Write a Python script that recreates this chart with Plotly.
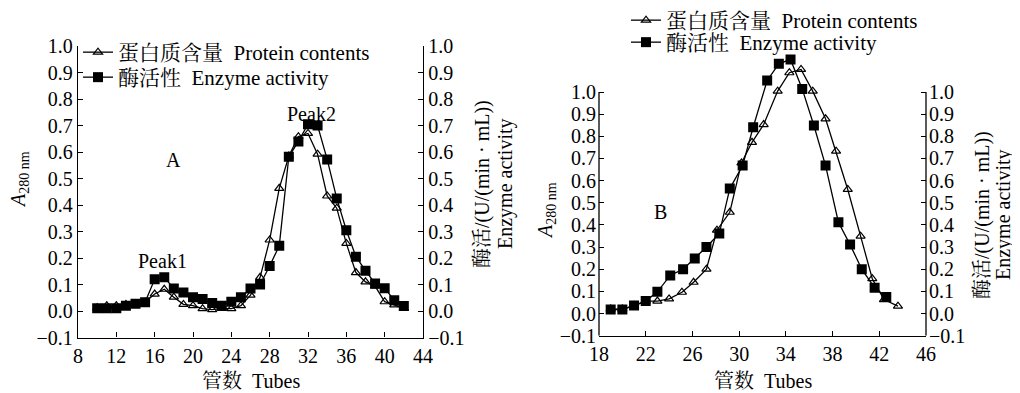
import plotly.graph_objects as go

# ---------------- data ----------------
tubes_a = list(range(10, 43))
protein_a = [0.012, 0.02, 0.02, 0.025, 0.027, 0.033, 0.064, 0.082, 0.052, 0.025,
             0.02, 0.009, 0.005, 0.01, 0.009, 0.02, 0.06, 0.127, 0.268, 0.463,
             0.585, 0.658, 0.67, 0.592, 0.434, 0.388, 0.255, 0.145, 0.11, 0.094,
             0.035, 0.023, 0.01]
enzyme_a = [0.01, 0.01, 0.01, 0.02, 0.027, 0.033, 0.12, 0.127, 0.085, 0.07,
            0.052, 0.045, 0.03, 0.02, 0.035, 0.052, 0.085, 0.10, 0.17, 0.246,
            0.582, 0.64, 0.705, 0.70, 0.572, 0.425, 0.305, 0.205, 0.152, 0.104,
            0.086, 0.041, 0.019]

tubes_b_protein = [19, 20, 21, 22, 23, 24, 25.1, 26.1, 27.2, 28.1, 29.2, 30.2, 31.1,
                   32.1, 33.3, 34.3, 35.3, 36.3, 37.4, 38.3, 39.3, 40.4, 41.4, 42.4, 43.6]
protein_b = [0.02, 0.02, 0.036, 0.056, 0.056, 0.066, 0.096, 0.141, 0.2, 0.376, 0.457,
             0.68, 0.773, 0.853, 1.004, 1.087, 1.102, 1.004, 0.879, 0.733, 0.56,
             0.349, 0.157, 0.063, 0.033]
tubes_b_enzyme = [19, 20, 21, 22, 23, 24.1, 25.2, 26.2, 27.2, 28.3, 29.2, 30.3, 31.2,
                  32.4, 33.4, 34.4, 35.4, 36.4, 37.4, 38.5, 39.5, 40.5, 41.6, 42.6]
enzyme_b = [0.018, 0.018, 0.036, 0.056, 0.098, 0.172, 0.2, 0.248, 0.3, 0.361, 0.564,
            0.668, 0.841, 1.052, 1.127, 1.147, 1.014, 0.849, 0.668, 0.412, 0.311,
            0.2, 0.116, 0.075]

xticks_a = list(range(8, 45, 4))
xticks_b = list(range(18, 47, 4))
yticks = [round(-0.1 + 0.1 * i, 1) for i in range(12)]

protein_name = "蛋白质含量  Protein contents"
enzyme_name = "酶活性  Enzyme activity"
left_title = "<i>A</i><sub>280 nm</sub>"
right_title_cn = "酶活/(U/(min · mL))"
right_title_en = "Enzyme activity"
x_title = "管数  Tubes"

# ---------------- style ----------------
FONT = "Liberation Serif, Noto Serif CJK SC, Noto Sans CJK SC, serif"
W, H = 1020, 393
OFF = 8          # page body margin
FS = 20
FS_LEG = 21


def px_x(p):
    return (p - OFF) / W


def px_y(p):
    return 1 - (p - OFF) / H


fig = go.Figure()

tri = dict(symbol="triangle-up-open", size=8, color="black", line=dict(width=1.2, color="black"))
sq = dict(symbol="square", size=10, color="black")
ln = dict(color="black", width=1.3)

fig.add_trace(go.Scatter(x=tubes_a, y=protein_a, mode="lines+markers", name=protein_name,
                         marker=tri, line=ln, xaxis="x", yaxis="y", legend="legend"))
fig.add_trace(go.Scatter(x=tubes_a, y=enzyme_a, mode="lines+markers", name=enzyme_name,
                         marker=sq, line=ln, xaxis="x", yaxis="y2", legend="legend2"))
fig.add_trace(go.Scatter(x=tubes_b_protein, y=protein_b, mode="lines+markers", name=protein_name,
                         marker=tri, line=ln, xaxis="x2", yaxis="y3", legend="legend3"))
fig.add_trace(go.Scatter(x=tubes_b_enzyme, y=enzyme_b, mode="lines+markers", name=enzyme_name,
                         marker=sq, line=ln, xaxis="x2", yaxis="y4", legend="legend4"))

axis_common = dict(ticks="inside", ticklen=5, tickwidth=1, tickcolor="black",
                   showgrid=False, zeroline=False, linecolor="black", linewidth=1.3,
                   automargin=False,
                   tickfont=dict(family=FONT, size=FS, color="black"))

# panel A geometry (reference pixels)
ax_l, ax_r, ay_t, ay_b = 78, 423, 46, 337.5
# panel B geometry
bx_l, bx_r = 599, 926
b_zero, b_unit = 313.5, 221.5
b_top_val = 1.2
by_b = b_zero + 0.1 * b_unit
by_t = b_zero - b_top_val * b_unit

yfmt = dict(tickvals=yticks, ticktext=[f"{v:.1f}".replace("-", "−") for v in yticks])


def leg(xp, yp):
    return dict(x=px_x(xp), y=px_y(yp), xanchor="left", yanchor="top",
                bgcolor="rgba(0,0,0,0)", font=dict(family=FONT, size=FS_LEG),
                itemwidth=30, tracegroupgap=0)


fig.update_layout(
    width=W, height=H, margin=dict(l=0, r=0, t=0, b=0, pad=0, autoexpand=False),
    paper_bgcolor="white", plot_bgcolor="white",
    font=dict(family=FONT, size=FS, color="black"),
    xaxis=dict(domain=[px_x(ax_l), px_x(ax_r)], range=[8, 44], tickvals=xticks_a,
               showline=True, anchor="y", ticklabelstandoff=0, **axis_common),
    yaxis=dict(domain=[px_y(ay_b), px_y(ay_t)], range=[-0.1, 1.0], showline=True,
               anchor="x", **yfmt, **axis_common),
    yaxis2=dict(overlaying="y", side="right", range=[-0.1, 1.0], showline=True,
                anchor="x", **yfmt, **axis_common),
    xaxis2=dict(domain=[px_x(bx_l), px_x(bx_r)], range=[18, 46], tickvals=xticks_b,
                showline=True, anchor="y3", ticklabelstandoff=0, **axis_common),
    yaxis3=dict(domain=[px_y(by_b), px_y(by_t)], range=[-0.1, b_top_val], showline=False,
                anchor="x2", ticklabelstandoff=2, **yfmt, **axis_common),
    yaxis4=dict(overlaying="y3", side="right", range=[-0.1, b_top_val], showline=False,
                anchor="x2", ticklabelstandoff=2, **yfmt, **axis_common),
    legend=leg(78, 32),
    legend2=leg(78, 57),
    legend3=leg(626, 0),
    legend4=leg(626, 22),
    showlegend=True,
)

# B axis lines only from -0.1 to 1.0
for xr in (0, 1):
    fig.add_shape(type="line", xref="x2 domain", yref="y3", x0=xr, x1=xr, y0=-0.1, y1=1.0,
                  line=dict(color="black", width=1.3))

ann = []
base = dict(xref="paper", yref="paper", showarrow=False, xanchor="center", yanchor="middle")
# axis titles
ann.append(dict(text=x_title, x=px_x((ax_l + ax_r) / 2), y=px_y(381),
                font=dict(size=FS), **base))
ann.append(dict(text=x_title, x=px_x((bx_l + bx_r) / 2), y=px_y(381),
                font=dict(size=FS), **base))
ann.append(dict(text=left_title, x=px_x(19), y=px_y(180), textangle=-90,
                font=dict(size=FS), **base))
ann.append(dict(text=left_title, x=px_x(546), y=px_y(211), textangle=-90,
                font=dict(size=FS), **base))
ann.append(dict(text=right_title_cn, x=px_x(482), y=px_y(184), textangle=-90,
                font=dict(size=FS), **base))
ann.append(dict(text=right_title_en, x=px_x(505), y=px_y(184), textangle=-90,
                font=dict(size=FS), **base))
ann.append(dict(text=right_title_cn, x=px_x(982), y=px_y(215), textangle=-90,
                font=dict(size=FS), **base))
ann.append(dict(text=right_title_en, x=px_x(1003), y=px_y(215), textangle=-90,
                font=dict(size=FS), **base))
# panel labels
dbase = dict(showarrow=False, xanchor="center", yanchor="middle")
ann.append(dict(text="A", x=18.0, y=0.57, xref="x", yref="y", font=dict(size=FS), **dbase))
ann.append(dict(text="B", x=23.3, y=0.46, xref="x2", yref="y3", font=dict(size=FS), **dbase))
ann.append(dict(text="Peak1", x=16.8, y=0.19, xref="x", yref="y", font=dict(size=FS), **dbase))
ann.append(dict(text="Peak2", x=32.4, y=0.745, xref="x", yref="y", font=dict(size=FS), **dbase))
fig.update_layout(annotations=ann)

fig.write_html("out.html")
